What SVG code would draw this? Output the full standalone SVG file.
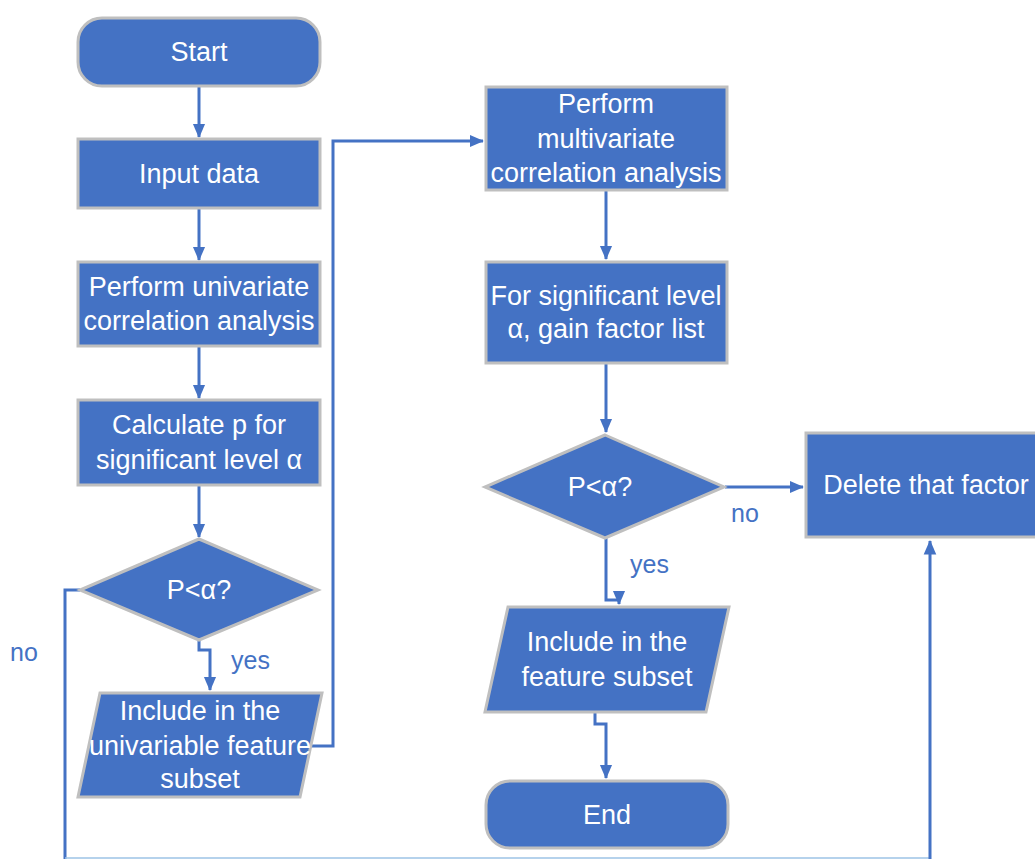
<svg xmlns="http://www.w3.org/2000/svg" width="1035" height="859" viewBox="0 0 1035 859">
<style>
.n{fill:#4472c4;stroke:#bfbfbf;stroke-width:3}
.t{font-family:"Liberation Sans",Arial,sans-serif;font-size:27px;fill:#ffffff;text-anchor:middle}
.l{font-family:"Liberation Sans",Arial,sans-serif;font-size:25px;fill:#4472c4}
.c{fill:none;stroke:#4472c4;stroke-width:3}
</style>
<defs>
<marker id="a" markerWidth="5" markerHeight="5" refX="4.5" refY="2.5" orient="auto" markerUnits="strokeWidth">
<path d="M0,0.4 L4.8,2.5 L0,4.6 Z" fill="#4472c4"/>
</marker>
</defs>
<rect width="1035" height="859" fill="#ffffff"/>
<g id="connectors">
<path class="c" d="M199,86 V137" marker-end="url(#a)"/>
<path class="c" d="M199,208 V260" marker-end="url(#a)"/>
<path class="c" d="M199,346 V398" marker-end="url(#a)"/>
<path class="c" d="M199,485 V537" marker-end="url(#a)"/>
<path class="c" d="M199,640 V650 H210 V690" marker-end="url(#a)"/>
<path class="c" d="M307,746 H333 V141 H483" marker-end="url(#a)"/>
<path class="c" d="M606,190 V259" marker-end="url(#a)"/>
<path class="c" d="M606,363 V432" marker-end="url(#a)"/>
<path class="c" d="M725,487 H803" marker-end="url(#a)"/>
<path class="c" d="M606,538 V600 H619 V604" marker-end="url(#a)"/>
<path class="c" d="M595,712 V724 H606 V778" marker-end="url(#a)"/>
<path class="c" d="M80,590 H65 V860"/>
<path d="M65,858 H930" fill="none" stroke="#9dc3e6" stroke-width="1.5"/>
<path class="c" d="M930,860 V541" marker-end="url(#a)"/>
<text class="l" x="10" y="661">no</text>
<text class="l" x="231" y="669">yes</text>
<text class="l" x="731" y="522">no</text>
<text class="l" x="630" y="573">yes</text>
</g>
<g id="start">
<rect class="n" x="78" y="18" width="242" height="68" rx="24"/>
<text class="t" x="199" y="61">Start</text>
</g>
<g id="input">
<rect class="n" x="78" y="139" width="242" height="69"/>
<text class="t" x="199" y="183">Input data</text>
</g>
<g id="univariate">
<rect class="n" x="78" y="262" width="242" height="84"/>
<text class="t" x="199" y="296">Perform univariate</text>
<text class="t" x="199" y="330">correlation analysis</text>
</g>
<g id="calculate">
<rect class="n" x="78" y="400" width="242" height="85"/>
<text class="t" x="199" y="434">Calculate p for</text>
<text class="t" x="199" y="469">significant level α</text>
</g>
<g id="decision1">
<polygon class="n" points="199,539 318,590 199,640 80,590"/>
<text class="t" x="199" y="599">P&lt;α?</text>
</g>
<g id="include1">
<polygon class="n" points="100,693 322,693 300,797 78,797"/>
<text class="t" x="200" y="720">Include in the</text>
<text class="t" x="200" y="755">univariable feature</text>
<text class="t" x="200" y="788">subset</text>
</g>
<g id="multivariate">
<rect class="n" x="486" y="87" width="241" height="103"/>
<text class="t" x="606" y="113">Perform</text>
<text class="t" x="606" y="148">multivariate</text>
<text class="t" x="606" y="182">correlation analysis</text>
</g>
<g id="gain">
<rect class="n" x="486" y="262" width="241" height="101"/>
<text class="t" x="606" y="305">For significant level</text>
<text class="t" x="606" y="338">α, gain factor list</text>
</g>
<g id="decision2">
<polygon class="n" points="605,435 724,487 605,538 485,487"/>
<text class="t" x="600" y="496">P&lt;α?</text>
</g>
<g id="delete">
<rect class="n" x="806" y="433" width="240" height="104"/>
<text class="t" x="926" y="494">Delete that factor</text>
</g>
<g id="include2">
<polygon class="n" points="508,607 729,607 706,712 485,712"/>
<text class="t" x="607" y="651">Include in the</text>
<text class="t" x="607" y="686">feature subset</text>
</g>
<g id="end">
<rect class="n" x="486" y="781" width="242" height="67" rx="24"/>
<text class="t" x="607" y="824">End</text>
</g>
</svg>
